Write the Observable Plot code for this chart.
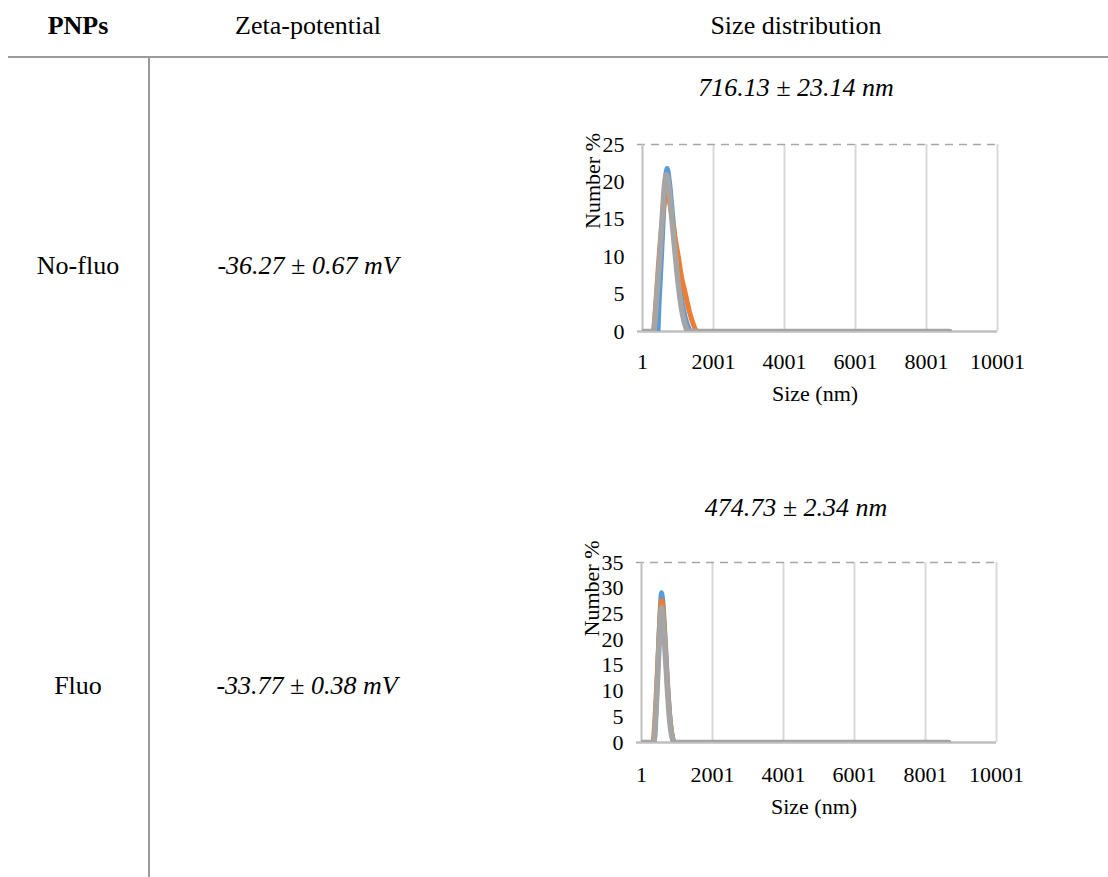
<!DOCTYPE html>
<html>
<head>
<meta charset="utf-8">
<script src="https://cdn.jsdelivr.net/npm/d3@7"></script>
<script src="https://cdn.jsdelivr.net/npm/@observablehq/plot@0.6"></script>
<style>
  html, body { margin: 0; padding: 0; background: #fff; }
  #page { position: relative; width: 1108px; height: 877px; overflow: hidden; font-family: "Liberation Serif", "Times New Roman", serif; color: #000; }
  .t { position: absolute; width: 300px; text-align: center; font-size: 26px; line-height: 26px; white-space: nowrap; font-family: "Liberation Serif", "Times New Roman", serif; }
  .i { font-style: italic; }
  .b { font-weight: bold; }
  .hline { position: absolute; left: 8px; top: 56px; width: 1100px; height: 2px; background: #9a9a9a; }
  .vline { position: absolute; left: 148px; top: 58px; width: 1.5px; height: 819px; background: #9a9a9a; }
  .chart { position: absolute; }
</style>
</head>
<body>
<div id="page">
  <div class="hline"></div>
  <div class="vline"></div>
  <div id="c1" class="chart" style="left:560px; top:100px;"></div>
  <div id="c2" class="chart" style="left:560px; top:520px;"></div>
</div>
<script>
// ---- Table text ----
const headers = ["PNPs", "Zeta-potential", "Size distribution"];
const samples = ["No-fluo", "Fluo"];
const zeta = ["-36.27 ± 0.67 mV", "-33.77 ± 0.38 mV"];
const sizes = ["716.13 ± 23.14 nm", "474.73 ± 2.34 nm"];

// ---- Axis ticks ----
const xTicks = [1, 2001, 4001, 6001, 8001, 10001];
const xGrid = [2001, 4001, 6001, 8001, 10001];
const yTicks1 = [0, 5, 10, 15, 20, 25];
const yTicks2 = [0, 5, 10, 15, 20, 25, 30, 35];
const seriesColors = ["#5b9bd5", "#ed7d31", "#a5a5a5"];

// ---- No-fluo size distribution (Size nm, Number %) ----
const nf1Size  = [1, 431, 470, 535, 600, 650, 696, 760, 850, 960, 1060, 1160, 1260, 1380, 8650];
const nf1Value = [0, 0, 4, 10, 16.5, 20.5, 21.8, 20, 15.5, 10, 5.8, 2.8, 1, 0, 0];
const nf2Size  = [1, 300, 380, 460, 540, 610, 668, 740, 840, 920, 1010, 1100, 1211, 1320, 1430, 1541, 8650];
const nf2Value = [0, 0, 4, 9.5, 14, 17, 18.4, 17.8, 15, 12.5, 10, 7.3, 5, 2.7, 1, 0, 0];
const nf3Size  = [1, 310, 400, 487, 560, 620, 676, 740, 830, 930, 1030, 1130, 1220, 1296, 8650];
const nf3Value = [0, 0, 4.5, 10, 15.5, 19.5, 21, 19.5, 15, 10, 5.5, 2.3, 0.6, 0, 0];

// ---- Fluo size distribution (Size nm, Number %) ----
const f1Size  = [1, 350, 420, 480, 530, 563, 600, 660, 730, 800, 870, 930, 8650];
const f1Value = [0, 0, 8, 18, 26, 29.1, 27.5, 21, 12, 5, 1, 0, 0];
const f2Size  = [1, 320, 400, 470, 525, 563, 605, 665, 735, 805, 875, 940, 8650];
const f2Value = [0, 0, 7, 17, 24.5, 27.6, 26, 19.5, 11, 4.5, 1, 0, 0];
const f3Size  = [1, 346, 420, 480, 530, 563, 600, 660, 730, 800, 870, 930, 8650];
const f3Value = [0, 0, 7.5, 16.5, 23.5, 26.2, 24.5, 18.5, 10.5, 4, 0.8, 0, 0];

const page = document.getElementById("page");
function addText(str, cx, baseline, cls) {
  const d = document.createElement("div");
  d.className = "t " + (cls || "");
  d.textContent = str;
  d.style.left = (cx - 150) + "px";
  d.style.top = (baseline - 21.8) + "px";
  page.appendChild(d);
}
addText(headers[0], 78, 35, "b");
addText(headers[1], 308, 35);
addText(headers[2], 796, 35);
addText(samples[0], 78, 275);
addText(zeta[0], 308, 275, "i");
addText(sizes[0], 796, 97, "i");
addText(samples[1], 78, 695);
addText(zeta[1], 307, 695, "i");
addText(sizes[1], 796, 517, "i");

function toRows(sz, val, s) { return sz.map((x, i) => ({size: x, value: val[i], s})); }

function makeChart({series, yMax, yTicks, margins, tickPadX, ylabelDy, xlabelDy}) {
  return Plot.plot({
    width: 460,
    height: 320,
    ...margins,
    style: {fontFamily: "Liberation Serif, Times New Roman, serif", color: "#000", background: "transparent", overflow: "visible"},
    x: {domain: [1, 10001], ticks: xTicks},
    y: {domain: [0, yMax], ticks: yTicks},
    marks: [
      Plot.ruleX(xGrid, {stroke: "#d9d9d9", strokeWidth: 2}),
      Plot.ruleY([yMax], {stroke: "#a6a6a6", strokeWidth: 1.5, strokeDasharray: "8,6", x1: -140, x2: 10001}),
      Plot.ruleX([1], {stroke: "#bfbfbf", strokeWidth: 2}),
      Plot.ruleY([0], {stroke: "#bfbfbf", strokeWidth: 2.5, x1: -140, x2: 10001}),
      ...series.map((rows, i) => Plot.line(rows, {x: "size", y: "value", stroke: seriesColors[i], strokeWidth: i === 2 ? 5.5 : 5, curve: "monotone-x", strokeLinejoin: "round", clip: true})),
      Plot.axisX({ticks: xTicks, tickSize: 0, tickPadding: tickPadX, fontSize: 22, label: null, tickFormat: d => String(d)}),
      Plot.axisY({ticks: yTicks, tickSize: 0, tickPadding: 18, fontSize: 22, label: null}),
      Plot.text(["Size (nm)"], {text: d => d, frameAnchor: "bottom", lineAnchor: "top", dy: xlabelDy, dx: -5, fontSize: 22}),
      Plot.text(["Number %"], {text: d => d, frameAnchor: "left", rotate: -90, textAnchor: "middle", lineAnchor: "middle", dx: -50, dy: ylabelDy, fontSize: 22})
    ]
  });
}

document.getElementById("c1").appendChild(makeChart({
  series: [toRows(nf1Size, nf1Value, 1), toRows(nf2Size, nf2Value, 2), toRows(nf3Size, nf3Value, 3)],
  yMax: 25, yTicks: yTicks1,
  margins: {marginLeft: 82, marginRight: 23, marginTop: 44, marginBottom: 89},
  tickPadX: 22, ylabelDy: -57, xlabelDy: 54
}));
document.getElementById("c2").appendChild(makeChart({
  series: [toRows(f1Size, f1Value, 1), toRows(f2Size, f2Value, 2), toRows(f3Size, f3Value, 3)],
  yMax: 35, yTicks: yTicks2,
  margins: {marginLeft: 81, marginRight: 24, marginTop: 42, marginBottom: 98},
  tickPadX: 24, ylabelDy: -64, xlabelDy: 56
}));
</script>
</body>
</html>
